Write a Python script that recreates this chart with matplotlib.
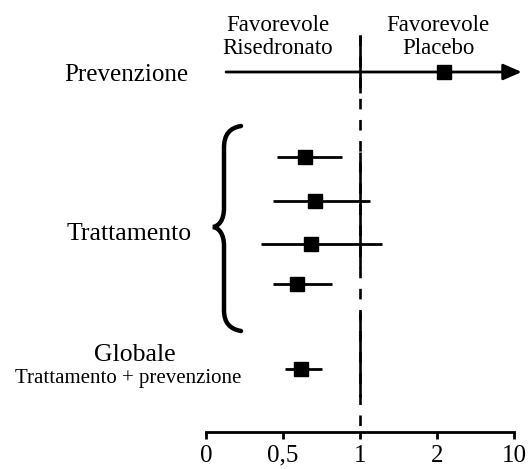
import numpy as np
import matplotlib
matplotlib.use("Agg")
import matplotlib.pyplot as plt
from matplotlib.path import Path
from matplotlib.patches import PathPatch

# Dati (rischio relativo e intervallo di confidenza)
tick_values = [0, 0.5, 1, 2, 10]
tick_labels = ["0", "0,5", "1", "2", "10"]

prev_est = 2.72
prev_lo = 0.13
prev_hi = 10.8   # freccia oltre la scala

tratt_est = [0.64, 0.71, 0.68, 0.59]
tratt_lo = [0.46, 0.435, 0.36, 0.435]
tratt_hi = [0.88, 1.13, 1.29, 0.82]

glob_est = 0.62
glob_lo = 0.51
glob_hi = 0.75

# posizione verticale delle righe (pixel della figura)
y_prev = 72
y_tratt = [157, 201, 244, 284]
y_glob = 369
y_axis = 432

plt.rcParams['font.family'] = ['Liberation Serif', 'DejaVu Serif']


def fwd(v):
    """Scala a tratti: le tacche 0, 0.5, 1, 2, 10 sono equidistanti."""
    v = np.asarray(v, dtype=float)
    p = np.interp(v, tick_values, np.arange(len(tick_values)))
    p = np.where(v < 0, v / 0.5, p)
    p = np.where(v > 10, 4 + (v - 10) / 8, p)
    return p


def inv(p):
    p = np.asarray(p, dtype=float)
    v = np.interp(p, np.arange(len(tick_values)), tick_values)
    v = np.where(p < 0, p * 0.5, v)
    v = np.where(p > 4, 10 + (p - 4) * 8, v)
    return v


fig = plt.figure(figsize=(5.29, 4.69), dpi=100)
ax = fig.add_axes([0, 0, 1, 1])
ax.set_xscale('function', functions=(fwd, inv))
ax.set_xlim(-1.338, 11.56)
ax.set_ylim(469, 0)
ax.patch.set_alpha(0)

# asse orizzontale
for s in ['top', 'left', 'right']:
    ax.spines[s].set_visible(False)
ax.spines['bottom'].set_position(('data', y_axis))
ax.spines['bottom'].set_bounds(0, 10)
ax.spines['bottom'].set_linewidth(2)
ax.set_xticks(tick_values)
ax.set_xticklabels(tick_labels)
ax.tick_params(axis='x', direction='out', length=5, width=2, pad=4, labelsize=18)
ax.set_yticks([])

# linea di riferimento a 1: tratteggiata, piena nei tratti delle righe
ax.vlines(1, 35, y_axis, colors='black', linewidth=1.9, linestyles=(0, (4, 4)))
for a, b in [(35, 93), (152, 268), (312, 397)]:
    ax.vlines(1, a, b, colors='black', linewidth=1.9)

# Prevenzione
ax.annotate("", xy=(prev_hi, y_prev), xytext=(prev_lo, y_prev),
            arrowprops=dict(arrowstyle='-|>,head_length=0.8,head_width=0.35',
                            mutation_scale=14, lw=2, color='black',
                            shrinkA=0, shrinkB=0))
ax.plot([prev_est], [y_prev], 's', color='black', ms=9.5, zorder=5)

# Trattamento
ax.hlines(y_tratt, tratt_lo, tratt_hi, colors='black', linewidth=2)
ax.plot(tratt_est, y_tratt, 's', color='black', ms=9.5, zorder=5)

# Globale
ax.hlines([y_glob], [glob_lo], [glob_hi], colors='black', linewidth=2)
ax.plot([glob_est], [y_glob], 's', color='black', ms=9.5, zorder=5)

# testi e parentesi in coordinate pixel
ov = fig.add_axes([0, 0, 1, 1])
ov.set_xlim(0, 529)
ov.set_ylim(469, 0)
ov.axis('off')

ov.text(278, 37, "Favorevole\nRisedronato", ha='center', va='center',
        fontsize=16.5, linespacing=1.08)
ov.text(438, 37, "Favorevole\nPlacebo", ha='center', va='center',
        fontsize=16.5, linespacing=1.08)
ov.text(126, 75, "Prevenzione", ha='center', va='center', fontsize=18)
ov.text(129, 234, "Trattamento", ha='center', va='center', fontsize=18.5)
ov.text(135, 355, "Globale", ha='center', va='center', fontsize=18.5)
ov.text(128, 378, "Trattamento + prevenzione", ha='center', va='center', fontsize=15)

verts = [(241, 126), (230, 128), (224, 134), (224, 148),
         (224, 208),
         (224, 220), (219, 226), (213, 227),
         (219, 228), (224, 234), (224, 246),
         (224, 310),
         (224, 323), (230, 329), (241, 331)]
codes = [Path.MOVETO, Path.CURVE4, Path.CURVE4, Path.CURVE4,
         Path.LINETO,
         Path.CURVE4, Path.CURVE4, Path.CURVE4,
         Path.CURVE4, Path.CURVE4, Path.CURVE4,
         Path.LINETO,
         Path.CURVE4, Path.CURVE4, Path.CURVE4]
ov.add_patch(PathPatch(Path(verts, codes), facecolor='none', edgecolor='black',
                       linewidth=3.2, capstyle='round'))

fig.savefig("out.png", dpi=100)
